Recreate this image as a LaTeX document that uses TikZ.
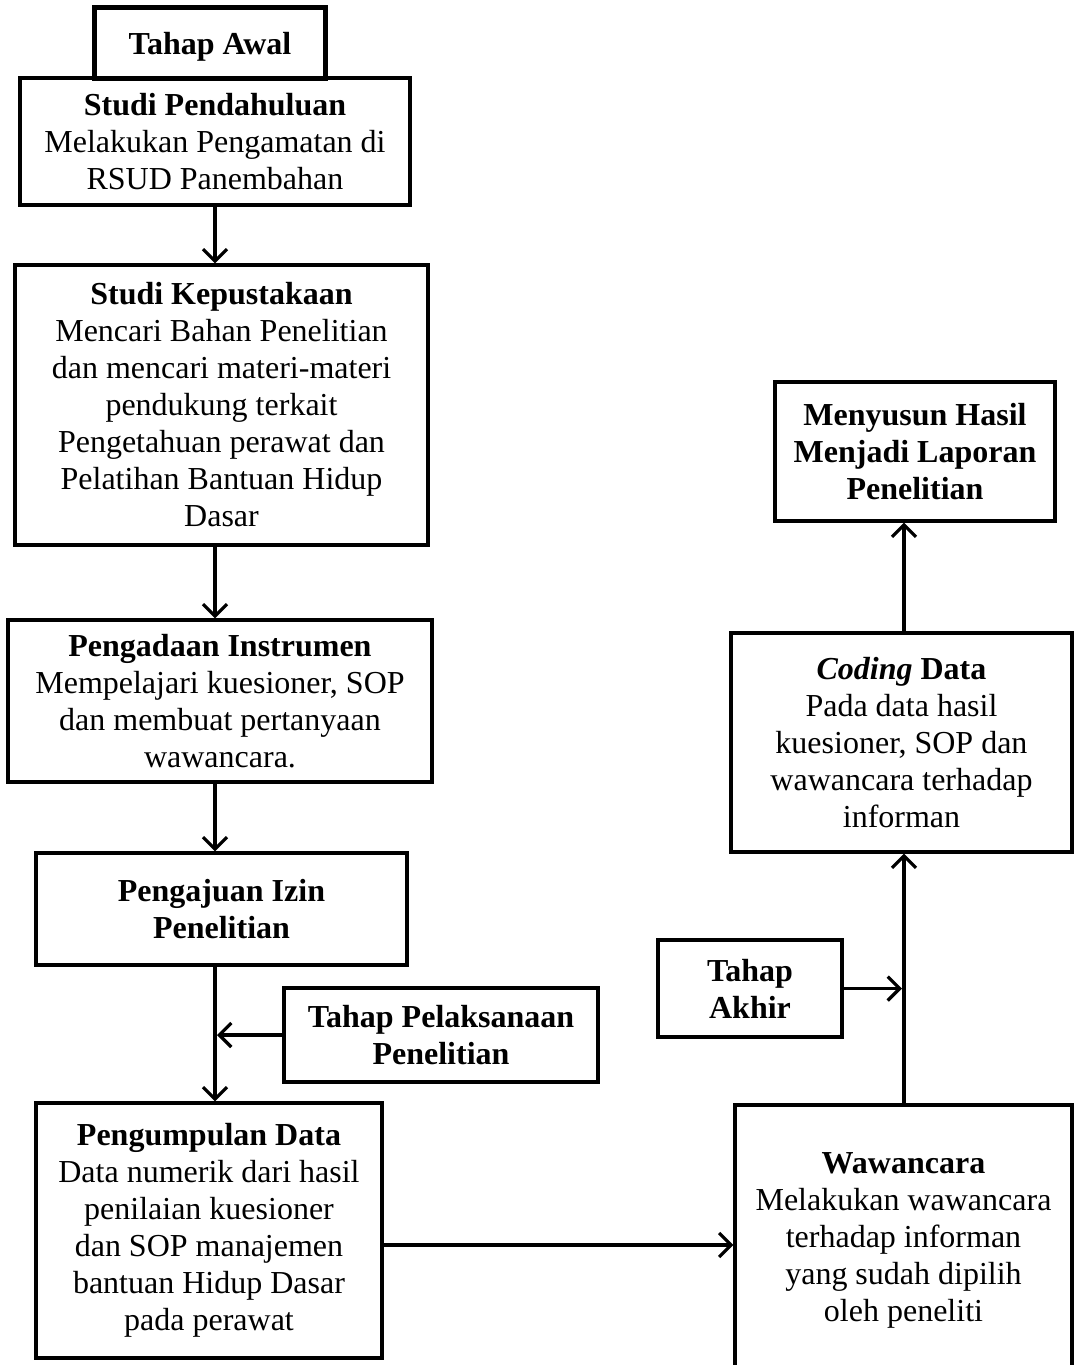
\documentclass[tikz,border=0pt]{standalone}
\usepackage{fontspec}
\setmainfont{Liberation Serif}
\usetikzlibrary{positioning, arrows.meta}

\begin{document}
\begin{tikzpicture}[
  x=1pt, y=-1pt,
  every node/.style={font=\fontsize{32}{37}\selectfont},
  stagebox/.style={rectangle, draw=black, line width=3.2pt, fill=white,
              align=center, inner sep=2pt,
              execute at begin node={\rule{0pt}{30pt}}},
  arr/.style={-{Straight Barb[length=12pt, width=24pt]}, black, line width=3.2pt},
]
  \useasboundingbox (0,0) rectangle (1079,1365);

  \coordinate (lspine) at (215,0);
  \coordinate (rspine) at (904,0);
  \coordinate (link)   at (0,1245);

  % left column
  \node[stagebox, minimum width=230pt, minimum height=70pt] at (210,43) (awal)
        {\textbf{Tahap Awal}};
  \node[stagebox, minimum width=390pt, minimum height=127pt] at (215,141.5) (sp)
        {\textbf{Studi Pendahuluan}\\Melakukan Pengamatan di\\RSUD Panembahan};
  \draw[line width=3.2pt] (awal.south west) rectangle (awal.north east);
  \node[stagebox, minimum width=413pt, minimum height=280pt] at (221.5,405) (kp)
        {\textbf{Studi Kepustakaan}\\Mencari Bahan Penelitian\\dan mencari materi-materi\\pendukung terkait\\Pengetahuan perawat dan\\Pelatihan Bantuan Hidup\\Dasar};
  \node[stagebox, minimum width=424pt, minimum height=162pt] at (220,701) (pi)
        {\textbf{Pengadaan Instrumen}\\Mempelajari kuesioner, SOP\\dan membuat pertanyaan\\wawancara.};
  \node[stagebox, minimum width=371pt, minimum height=112pt] at (221.5,909) (pj)
        {\textbf{Pengajuan Izin}\\\textbf{Penelitian}};
  \node[stagebox, minimum width=314pt, minimum height=94pt] at (441,1035) (tp)
        {\textbf{Tahap Pelaksanaan}\\\textbf{Penelitian}};
  \node[stagebox, minimum width=346pt, minimum height=255pt] at (209,1230.5) (pd)
        {\textbf{Pengumpulan Data}\\Data numerik dari hasil\\penilaian kuesioner\\dan SOP manajemen\\bantuan Hidup Dasar\\pada perawat};

  % right column
  \node[stagebox, minimum width=337pt, minimum height=270pt] at (903.5,1240) (ww)
        {\textbf{Wawancara}\\Melakukan wawancara\\terhadap informan\\yang sudah dipilih\\oleh peneliti};
  \node[stagebox, minimum width=184pt, minimum height=97pt] at (750,988.5) (ta)
        {\textbf{Tahap}\\\textbf{Akhir}};
  \node[stagebox, minimum width=341pt, minimum height=219pt] at (901.5,742.5) (cd)
        {\textbf{\textit{Coding} Data}\\Pada data hasil\\kuesioner, SOP dan\\wawancara terhadap\\informan};
  \node[stagebox, minimum width=280pt, minimum height=139pt] at (915,451.5) (ms)
        {\textbf{Menyusun Hasil}\\\textbf{Menjadi Laporan}\\\textbf{Penelitian}};

  \draw[arr] (lspine |- sp.south) -- (lspine |- kp.north);
  \draw[arr] (lspine |- kp.south) -- (lspine |- pi.north);
  \draw[arr] (lspine |- pi.south) -- (lspine |- pj.north);
  \draw[arr] (lspine |- pj.south) -- (lspine |- pd.north);
  \draw[arr, shorten >=2pt] (tp.west) -- (lspine |- tp.west);
  \draw[arr] (pd.east |- link) -- (ww.west |- link);

  \draw[arr] (rspine |- ww.north) -- (rspine |- cd.south);
  \draw[arr, shorten >=2pt] (ta.east) -- (rspine |- ta.east);
  \draw[arr] (rspine |- cd.north) -- (rspine |- ms.south);
\end{tikzpicture}
\end{document}
